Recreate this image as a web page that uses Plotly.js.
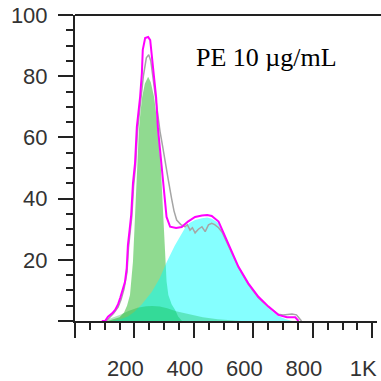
<!DOCTYPE html>
<html><head><meta charset="utf-8">
<script src="https://cdn.plot.ly/plotly-3.0.1.min.js"></script>
<style>html,body{margin:0;padding:0;background:#fff}#chart{width:381px;height:381px}</style>
</head><body><div id="chart"></div>
<script>
// Model total (magenta outline)
const totalX = [90,101,111,125,135,145,152,160,168,174,178,184,189,195,202,208,214,219,225,228,236,246,253,258,263,273,279,286,296,303,308,320,340,359,380,404,427,445,460,483,505,528,550,583,617,651,684,713,741,752];
const totalY = [0,0,1.4,2.5,3.6,5.5,7.5,10,12.7,17.3,24.8,30,34.6,45,51.6,63.4,68,73.2,81,88.6,92.5,92.8,91.8,87,81,73,63,56,47,41,34,30.8,30.4,30.7,32.5,34,34.5,34.6,34.3,32.5,27.5,22.2,17.7,12.3,7.9,4.7,2.0,1.2,1.2,0];
// Measured histogram (gray line)
const dataX = [105,115,130,145,155,165,175,180,186,191,197,204,210,216,222,230,240,248,255,262,270,280,286,295,303,314,325,333,342,356,370,378,387,395,404,415,427,438,449,460,470,483,495,505,528,550,583,617,651,684,700,714,730,745,755,762];
const dataY = [0,1,2.5,4.5,7,10.5,16,24,30,34,44,51,62,67,72,80,86,87,85,80,73,66,62,57,52,46,40,36,33,31.5,30.8,31.5,29.7,30.5,28.8,30,30.8,29.2,31.4,31.9,31.5,30.5,29,27,22,17.5,12,7.6,4.5,2.2,2.0,2.2,2.3,2.0,1.0,0];
// First peak (green)
const peak1X = [110,130,150,165,175,185,190,195,200,204,209,215,220,226,235,246,255,266,274,279,288,293,298,303,308,314,325,337,347,360];
const peak1Y = [0,0.5,1.2,2.8,5,8.5,13,19.4,30,40,51.6,62.4,68,73.2,77.5,79.8,78,73.2,67,62.4,51.6,42,30,19.4,13,8.5,5.5,3.6,1.5,0];
// Second peak (cyan)
const peak2X = [120,150,178,200,225,258,285,309,335,355,370,385,404,427,445,460,483,505,528,550,583,617,651,684,710,730];
const peak2Y = [0,0.5,1.5,3,5.5,9.5,14,19.4,24.5,28,30.4,32,33,33.6,33.8,33.4,32,27,21.9,17.3,11.8,7.5,4.2,1.6,0.6,0];
// Broad low component (dark green)
const broadX = [95,120,150,180,210,240,260,285,310,340,380,430,480,530,560];
const broadY = [0,0.8,2.0,3.3,4.3,4.8,4.9,4.7,4.2,3.2,2.2,1.2,0.6,0.2,0];

const xTickVals = [0,200,400,600,800,1000];
const xTickText = ['', '200','400','600','800','1K'];
const yTickVals = [0,20,40,60,80,100];
const yTickText = ['', '20','40','60','80','100'];
const label = 'PE 10 µg/mL';

const traces = [
  {x: peak1X, y: peak1Y, type:'scatter', mode:'lines', fill:'tozeroy', line:{width:0, color:'rgba(0,0,0,0)'}, fillcolor:'rgba(33,181,33,0.5)'},
  {x: peak2X, y: peak2Y, type:'scatter', mode:'lines', fill:'tozeroy', line:{width:0, color:'rgba(0,0,0,0)'}, fillcolor:'rgba(0,255,255,0.48)'},
  {x: broadX, y: broadY, type:'scatter', mode:'lines', fill:'tozeroy', line:{width:0, color:'rgba(0,0,0,0)'}, fillcolor:'rgba(0,175,50,0.3)'},
  {x: dataX, y: dataY, type:'scatter', mode:'lines', line:{width:1.5, color:'rgb(165,165,165)'}},
  {x: totalX, y: totalY, type:'scatter', mode:'lines', line:{width:2, color:'#ff00ff'}}
];

const axisCommon = {
  ticks:'outside', ticklen:15, tickwidth:2, tickcolor:'#222',
  showline:true, linecolor:'#222', linewidth:2,
  showgrid:false, zeroline:false, fixedrange:true,
  tickfont:{family:'Liberation Sans, Arial, sans-serif', size:22, color:'#333'}
};

const layout = {
  width:381, height:381,
  margin:{l:75, r:4, t:15, b:60},
  paper_bgcolor:'#fff', plot_bgcolor:'#fff',
  showlegend:false,
  xaxis: Object.assign({}, axisCommon, {
    range:[0,1016], tickmode:'array', tickvals:xTickVals, ticktext:xTickText,
    ticklabelshift:-9, ticklabelstandoff:12,
    minor:{tickmode:'linear', tick0:0, dtick:50, ticks:'outside', ticklen:7, tickwidth:2, tickcolor:'#222'}
  }),
  yaxis: Object.assign({}, axisCommon, {
    range:[0,100], tickmode:'array', tickvals:yTickVals, ticktext:yTickText,
    ticklabelstandoff:6,
    minor:{tickmode:'linear', tick0:0, dtick:5, ticks:'outside', ticklen:7, tickwidth:2, tickcolor:'#222'}
  }),
  shapes:[{type:'line', xref:'paper', yref:'paper', x0:0, x1:1.02, y0:1, y1:1, line:{color:'#222', width:2}}],
  annotations:[{text:label, x:643, y:86, xref:'x', yref:'y', showarrow:false,
    font:{family:'Liberation Serif, Times New Roman, serif', size:26, color:'#000'}}]
};

Plotly.newPlot('chart', traces, layout, {displayModeBar:false, staticPlot:true});
</script></body></html>
